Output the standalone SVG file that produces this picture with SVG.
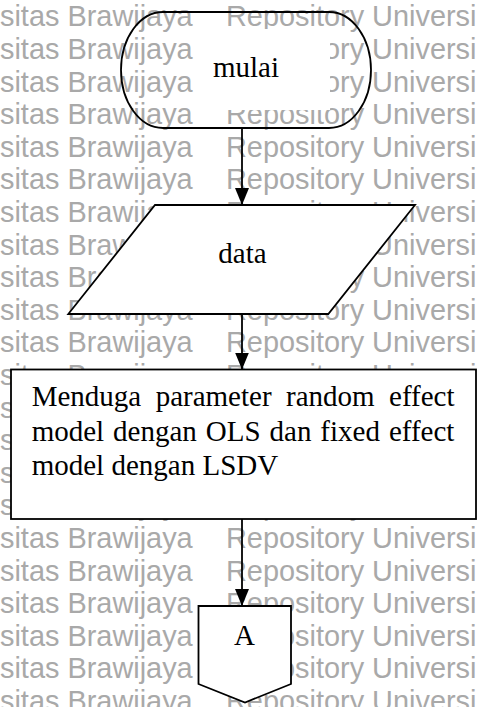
<svg xmlns="http://www.w3.org/2000/svg" xmlns:xlink="http://www.w3.org/1999/xlink" width="477" height="707" viewBox="0 0 477 707">
  <style>
    .wm { font-family: "Liberation Sans", Arial, sans-serif; font-size: 28.9px; fill: #a9a9a9; }
    .shape { fill: #fff; stroke: #000; stroke-width: 1.8; stroke-linejoin: miter; }
    .outline { fill: none; stroke: #000; stroke-width: 1.8; }
    .label { font-family: "Liberation Serif", "Times New Roman", serif; font-size: 29px; fill: #000; }
    .mid { text-anchor: middle; }
    .edge { fill: none; stroke: #000; stroke-width: 1.8; marker-end: url(#arrow); }
  </style>
  <defs>
    <marker id="arrow" markerUnits="userSpaceOnUse" markerWidth="18" markerHeight="16" viewBox="0 -8 18 16" refX="17" refY="0" orient="auto">
      <path d="M0,-7 L17,0 L0,7 Z" fill="#000"/>
    </marker>
    <g id="wmRow">
      <text class="wm" x="0" y="0">sitas Brawijaya</text>
      <text class="wm" x="226" y="0">Repository Universi</text>
    </g>
  </defs>

  <rect width="477" height="707" fill="#fff"/>

  <!-- background watermark rows -->
  <g id="watermark">
    <use xlink:href="#wmRow" y="26.3"/>
    <use xlink:href="#wmRow" y="58.9"/>
    <use xlink:href="#wmRow" y="91.5"/>
    <use xlink:href="#wmRow" y="124.1"/>
    <use xlink:href="#wmRow" y="156.7"/>
    <use xlink:href="#wmRow" y="189.3"/>
    <use xlink:href="#wmRow" y="221.9"/>
    <use xlink:href="#wmRow" y="254.5"/>
    <use xlink:href="#wmRow" y="287.1"/>
    <use xlink:href="#wmRow" y="319.7"/>
    <use xlink:href="#wmRow" y="352.3"/>
    <use xlink:href="#wmRow" y="384.9"/>
    <use xlink:href="#wmRow" y="417.5"/>
    <use xlink:href="#wmRow" y="450.1"/>
    <use xlink:href="#wmRow" y="482.7"/>
    <use xlink:href="#wmRow" y="515.3"/>
    <use xlink:href="#wmRow" y="547.9"/>
    <use xlink:href="#wmRow" y="580.5"/>
    <use xlink:href="#wmRow" y="613.1"/>
    <use xlink:href="#wmRow" y="645.7"/>
    <use xlink:href="#wmRow" y="678.3"/>
    <use xlink:href="#wmRow" y="710.9"/>
  </g>

  <!-- connectors -->
  <g id="connectors">
    <line class="edge" x1="242" y1="128" x2="242" y2="205"/>
    <line class="edge" x1="242" y1="314" x2="242" y2="369.5"/>
    <line class="edge" x1="242" y1="519" x2="242" y2="606"/>
  </g>

  <!-- start terminator: open outline, only the label sits on a white text box -->
  <g id="start">
    <path class="outline" d="M163,12 H329 A42,58 0 0 1 329,128 H163 A42,58 0 0 1 163,12 Z"/>
    <rect x="196" y="29" width="134" height="81" fill="#fff"/>
    <text class="label mid" x="246" y="77" font-size="31">mulai</text>
  </g>

  <!-- input data -->
  <g id="input">
    <polygon class="shape" points="155,205 415,205 328.3,314 68.3,314"/>
    <text class="label mid" x="242.5" y="263">data</text>
  </g>

  <!-- estimation step -->
  <g id="estimate">
    <rect class="shape" x="11" y="369.5" width="465" height="149.5"/>
    <text class="label" x="31.7" y="406" word-spacing="7.2">Menduga parameter random effect</text>
    <text class="label" x="31.7" y="440.5" word-spacing="1.7">model dengan OLS dan fixed effect</text>
    <text class="label" x="31.7" y="475">model dengan LSDV</text>
  </g>

  <!-- off-page connector -->
  <g id="connectorA">
    <polygon class="shape" points="198.5,606 291,606 291,684 245,702.5 198.5,684"/>
    <text class="label mid" x="244.5" y="645" font-size="28">A</text>
  </g>
</svg>
